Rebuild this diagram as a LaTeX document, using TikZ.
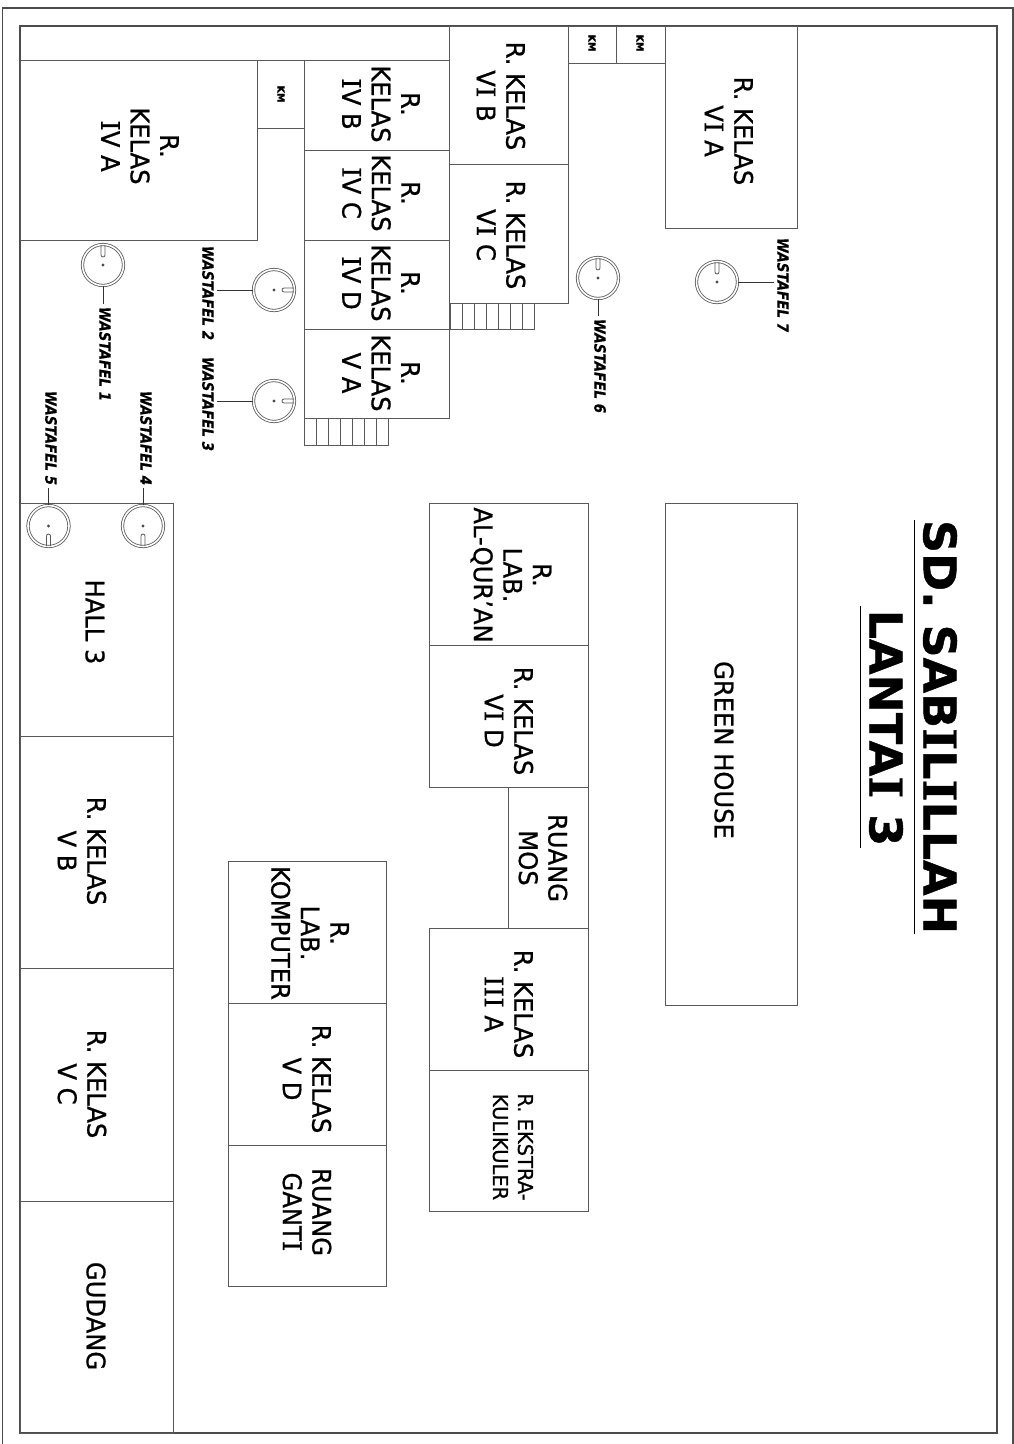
\documentclass[tikz,border=0pt]{standalone}
\usepackage{fontspec}
\setmainfont[FakeStretch=.95,FakeBold=.8]{DejaVu Sans}
\newfontfamily\sinkfont[FakeStretch=.87,FakeBold=.5]{DejaVu Sans}
\newfontfamily\headfont[FakeStretch=1.02,FakeBold=1]{DejaVu Sans}
\newfontfamily\slabfont[FakeStretch=1.05,FakeBold=.8]{DejaVu Serif}
\newcommand{\slabI}{{\slabfont I}}
\usetikzlibrary{positioning, calc}

\begin{document}
\begin{tikzpicture} [
    x=1pt, y=-1pt,
    frame/.style={draw=black!70, line width=1.3pt},
    wall/.style={draw=black!65, line width=1pt},
    roomtext/.style={rotate=-90, align=center, inner sep=0pt, font=\fontsize{25.5}{29.5}\selectfont},
    smalltext/.style={rotate=-90, align=center, inner sep=0pt, font=\fontsize{20.5}{25}\selectfont},
    kmtext/.style={rotate=-90, inner sep=0pt, font=\bfseries\fontsize{10}{10}\selectfont},
    sink/.style={circle, draw=black!65, double=white, double distance=1.6pt, line width=.8pt, minimum size=41pt, inner sep=0pt},
    sinktext/.style={rotate=-90, inner sep=0pt, font=\sinkfont\bfseries\itshape\fontsize{15.5}{15.5}\selectfont},
    leader/.style={draw=black!80, line width=1pt, shorten >=3pt},
    titletext/.style={rotate=-90, inner sep=0pt, font=\headfont\bfseries\fontsize{45}{45}\selectfont}
]
\useasboundingbox (0,0) rectangle (1014,1444);

% Frames
\draw[frame] (2.5,1444) -- (2.5,8) -- (1013,8) -- (1013,1444);
\draw[frame] (20,26) rectangle (997,1433);
\draw[wall] (20,60) -- (449,60);

% Left wing
\draw[wall] (20,60) rectangle (257,240);
\draw[wall] (257,60) rectangle (304,128);
\draw[wall] (304,60) rectangle (449,150);
\draw[wall] (304,150) rectangle (449,240);
\draw[wall] (304,240) rectangle (449,329);
\draw[wall] (304,329) rectangle (449,418);
\node[roomtext] (ivA) at (140,146) {R.\\KELAS\\\slabI V A};
\node[kmtext] (kmA) at (281,94) {KM};
\node[roomtext] (ivB) at (381,104) {R.\\KELAS\\\slabI V B};
\node[roomtext] (ivC) at (381,193) {R.\\KELAS\\\slabI V C};
\node[roomtext] (ivD) at (381,283) {R.\\KELAS\\\slabI V D};
\node[roomtext] (vA) at (381,373) {R.\\KELAS\\V A};

% Upper wing
\draw[wall] (449,26) rectangle (568,164);
\draw[wall] (449,164) rectangle (568,303);
\draw[wall] (568,26) rectangle (616,63);
\draw[wall] (616,26) rectangle (665,63);
\draw[wall] (665,26) rectangle (797,228);
\node[roomtext] (viB) at (501,96) {R. KELAS\\V\slabI{} B};
\node[roomtext] (viC) at (501,235) {R. KELAS\\V\slabI{} C};
\node[kmtext] (kmB) at (592,43) {KM};
\node[kmtext] (kmC) at (640,43) {KM};
\node[roomtext] (viA) at (729,131) {R. KELAS\\V\slabI{} A};

% Stairs
\foreach \s in {0,...,6}
    \draw[wall] (304+12*\s,418) rectangle (316+12*\s,445);
\foreach \s in {0,...,6}
    \draw[wall] (450+12*\s,303) rectangle (462+12*\s,329);

% Hall block
\draw[wall] (20,503) rectangle (173,736);
\draw[wall] (20,736) rectangle (173,968);
\draw[wall] (20,968) rectangle (173,1201);
\draw[wall] (20,1201) rectangle (173,1433);
\node[roomtext] (hall) at (95,622) {HALL 3};
\node[roomtext] (vB) at (82,851) {R. KELAS\\V B};
\node[roomtext] (vC) at (82,1084) {R. KELAS\\V C};
\node[roomtext] (gudang) at (96,1316) {GUDANG};

% Middle block
\draw[wall] (429,503) rectangle (588,645);
\draw[wall] (429,645) rectangle (588,787);
\draw[wall] (508,787) rectangle (588,928);
\draw[wall] (429,928) rectangle (588,1070);
\draw[wall] (429,1070) rectangle (588,1211);
\node[roomtext] (labQuran) at (511,575) {R.\\LAB.\\AL-QUR'AN};
\node[roomtext] (viD) at (509,721) {R. KELAS\\V\slabI{} D};
\node[roomtext] (mos) at (543,858) {RUANG\\MOS};
\node[roomtext] (iiiA) at (509,1004) {R. KELAS\\\slabI\slabI\slabI{} A};
\node[smalltext] (ekskul) at (513,1147) {R. EKSTRA-\\KULIKULER};

% Computer block
\draw[wall] (228,861) rectangle (386,1003);
\draw[wall] (228,1003) rectangle (386,1145);
\draw[wall] (228,1145) rectangle (386,1286);
\node[roomtext] (labKomp) at (310,933) {R.\\LAB.\\KOMPUTER};
\node[roomtext] (vD) at (307,1079) {R. KELAS\\V D};
\node[roomtext] (ganti) at (307,1212) {RUANG\\GANT\slabI};

% Green house
\draw[wall] (665,503) rectangle (797,1005);
\node[roomtext] (green) at (724,750) {GREEN HOUSE};

% Sinks
\foreach \name/\cx/\cy/\ang in {wfA/103/265/0, wfB/274/290/-90, wfC/274/401/-90, wfD/143/526/180,
                                wfE/48.5/526/180, wfF/598/278/0, wfG/717/282/0} {
    \node[sink] (\name) at (\cx,\cy) {};
    \fill[black!70] (\name) circle (1.7pt);
    \draw[wall, line width=.8pt, shift={(\name)}, rotate=\ang] (-2pt,20pt) -- (-2pt,10pt) arc[start angle=180, end angle=360, radius=2pt] -- (2pt,20pt);
}

\node[sinktext] (txtA) at (105,354) {WASTAFEL 1};
\node[sinktext] (txtB) at (208,293) {WASTAFEL 2};
\node[sinktext] (txtC) at (208,404) {WASTAFEL 3};
\node[sinktext] (txtD) at (146,438) {WASTAFEL 4};
\node[sinktext] (txtE) at (51,438) {WASTAFEL 5};
\node[sinktext] (txtF) at (600,366) {WASTAFEL 6};
\node[sinktext] (txtG) at (783,285) {WASTAFEL 7};

\draw[leader] (wfA.south) -- (wfA.south |- txtA.west);
\draw[leader] (wfB.west) -- (wfB.west -| txtB.north);
\draw[leader] (wfC.west) -- (wfC.west -| txtC.north);
\draw[leader] (wfD.north) -- (wfD.north |- txtD.east);
\draw[leader] (wfE.north) -- (wfE.north |- txtE.east);
\draw[leader] (wfF.south) -- (wfF.south |- txtF.west);
\draw[leader] (wfG.east) -- (wfG.east -| txtG.south);

% Title
\node[titletext] (title) at (940,727) {SD. SAB\slabI L\slabI LLAH};
\node[titletext] (floor) at (886,728) {LANTA\slabI{} 3};
\draw[line width=1pt] ([xshift=-8pt]title.south west) -- ([xshift=-8pt]title.south east);
\draw[line width=1pt] ([xshift=-8pt,yshift=4pt]floor.south west) -- ([xshift=-8pt,yshift=-2pt]floor.south east);

\end{tikzpicture}
\end{document}
